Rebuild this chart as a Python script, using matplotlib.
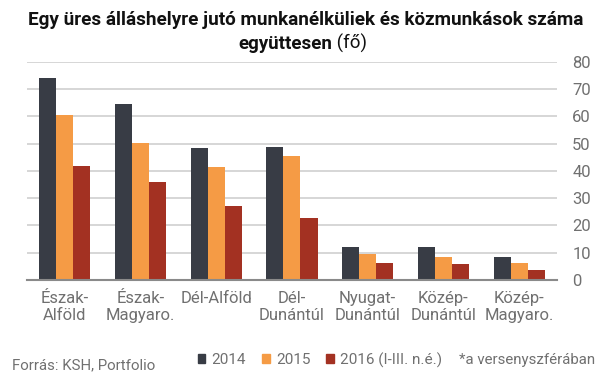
import numpy as np
import matplotlib.pyplot as plt
from matplotlib.patches import Patch

plt.rcParams['font.family'] = ['Roboto', 'DejaVu Sans']

# Data
regions = ['Észak-\nAlföld', 'Észak-\nMagyaro.', 'Dél-Alföld', 'Dél-\nDunántúl',
           'Nyugat-\nDunántúl', 'Közép-\nDunántúl', 'Közép-\nMagyaro.']
v2014 = [74.1, 64.6, 48.4, 48.8, 12.2, 12.2, 8.6]
v2015 = [60.5, 50.3, 41.5, 45.5, 9.5, 8.6, 6.4]
v2016 = [41.8, 36.0, 27.2, 22.8, 6.4, 6.0, 3.8]
series_names = ['2014', '2015', '2016 (I-III. n.é.)']
colors = ['#383c45', '#f59b45', '#a33122']
yticks = [0, 10, 20, 30, 40, 50, 60, 70, 80]

fig = plt.figure(figsize=(6.05, 3.78), dpi=100)
ax = fig.add_axes([0.0446, 0.2593, 0.876, 0.5767])

x = np.arange(len(regions))
w = 0.225
for i, (vals, c) in enumerate(zip([v2014, v2015, v2016], colors)):
    ax.bar(x + (i - 1) * w, vals, width=w, color=c, zorder=3)

ax.set_xlim(-0.5, len(regions) - 0.5)
ax.set_ylim(0, 80)
ax.set_yticks(yticks)
ax.yaxis.tick_right()
ax.grid(axis='y', color='#d0d0d0', linewidth=1.2, zorder=0)
for s in ['top', 'left', 'right']:
    ax.spines[s].set_visible(False)
ax.spines['bottom'].set_color('#8a8a8a')
ax.spines['bottom'].set_linewidth(1.5)
ax.spines['bottom'].set_zorder(4)
ax.tick_params(axis='y', length=0, pad=11, labelsize=12, labelcolor='#707070')
ax.tick_params(axis='x', length=0, pad=8, labelsize=12, labelcolor='#707070')
ax.set_xticks(x)
ax.set_xticklabels(regions, linespacing=1.15)

# Title
fig.text(0.505, 0.947, 'Egy üres álláshelyre jutó munkanélküliek és közmunkások száma',
         ha='center', va='center', fontsize=13.6, fontweight='bold', color='#111111')
fig.canvas.draw()
r = fig.canvas.get_renderer()
t1 = fig.text(0, 0.884, 'együttesen', ha='left', va='center', fontsize=13.5,
              fontweight='bold', color='#111111')
t2 = fig.text(0, 0.884, ' (fő)', ha='left', va='center', fontsize=13.5, color='#111111')
w1 = t1.get_window_extent(r).width
w2 = t2.get_window_extent(r).width
W = fig.bbox.width
x0 = 0.5 * W - (w1 + w2) / 2
t1.set_x(x0 / W)
t2.set_x((x0 + w1) / W)

# Legend and notes
handles = [Patch(color=c, label=n) for c, n in zip(colors, series_names)]
fig.legend(handles=handles, loc='center left', bbox_to_anchor=(0.327, 0.048), ncol=3,
           frameon=False, fontsize=11, handlelength=0.5, handleheight=0.5,
           handletextpad=0.4, columnspacing=1.05, borderpad=0, borderaxespad=0,
           labelcolor='#707070')
fig.text(0.02, 0.034, 'Forrás: KSH, Portfolio', ha='left', va='center',
         fontsize=10.8, color='#707070')
fig.text(0.983, 0.048, '*a versenyszférában', ha='right', va='center',
         fontsize=10.8, color='#707070')

fig.savefig('out.png', dpi=100)
